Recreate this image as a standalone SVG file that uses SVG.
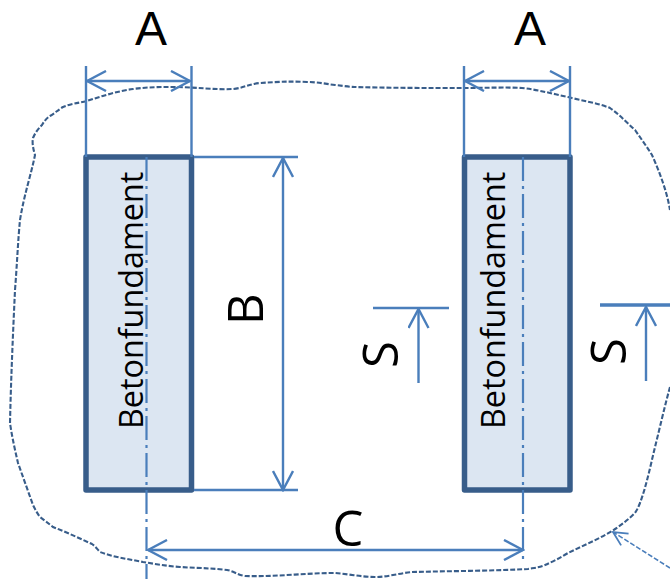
<svg xmlns="http://www.w3.org/2000/svg" width="670" height="579" viewBox="0 0 670 579">
<style>
text{font-family:"Open Sans","Noto Sans","DejaVu Sans",sans-serif;fill:#000}
.big{font-size:49px}
.bigA{font-family:"Liberation Sans",Arial,sans-serif;font-size:48px}
.lab{font-size:32.300px}
.dim{fill:none;stroke:#4a7ebb;stroke-width:2.400}
.thick{stroke-width:3.400}
.center{fill:none;stroke:#4a7ebb;stroke-width:2.200;stroke-dasharray:24 5 3 5}
.found{fill:#dce6f2;stroke:#385d8a;stroke-width:5.500;stroke-linejoin:round}
.blob{fill:none;stroke:#385d8a;stroke-width:2.100;stroke-dasharray:5 2}
.lead{fill:none;stroke:#4a7ebb;stroke-width:1.600;stroke-dasharray:5 2}
</style>
<defs>
<marker id="open" viewBox="-20 -11 22 22" markerUnits="userSpaceOnUse" markerWidth="22" markerHeight="22" refX="0" refY="0" orient="auto-start-reverse">
<path d="M-19-10L0 0L-19 10" fill="none" stroke="#4a7ebb" stroke-width="2.400"/>
</marker>
<marker id="small" viewBox="-15 -8 17 16" markerUnits="userSpaceOnUse" markerWidth="17" markerHeight="16" refX="0" refY="0" orient="auto">
<path d="M-14-7L0 0L-14 7" fill="none" stroke="#4a7ebb" stroke-width="1.800"/>
</marker>
</defs>
<g id="ground-outline">
<path class="blob" d="M15 290C17 265 18 240 20 220C24 195 31 175 35 155C33 148 32 143 33 138C36 131 39 128 42 125C45 120 47 118 50 116C55 113 58 110 63 107C70 104 78 103 87 101C102 96 118 91 133 89C148 87 160 87 173 87C195 87 215 90 233 89C243 88 250 84 260 83C275 82 290 81 307 82C318 82 326 84 335 85C345 86 350 87 355 87C390 88 430 88 465 88C485 88 505 87 522 88C540 90 553 94 568 97C583 101 598 103 610 108C620 115 627 123 635 130C642 140 647 147 652 155C660 173 667 192 670 210M670 387C665 405 660 427 655 447C650 468 646 487 640 503C638 508 637 510 635 513C628 520 620 526 612 531C597 540 582 546 568 553C560 558 552 562 545 565C538 568 533 568 528 569C490 571 450 571 412 572C400 573 388 577 375 577C362 577 348 574 335 573C305 573 275 577 245 576C238 575 233 571 227 570C210 568 195 568 180 567C167 566 155 564 143 562C128 559 113 557 100 552C97 549 95 546 92 544C79 538 66 532 53 527C48 523 44 520 40 517C37 513 35 509 33 505C28 491 23 477 18 463C15 450 12 437 10 423C11 378 13 333 15 290"/>
</g>
<g id="foundation-left">
<rect class="found" x="86" y="157" width="105.500" height="333"/>
<text class="lab" transform="translate(143 429) rotate(-90)">Betonfundament</text>
</g>
<g id="foundation-right">
<rect class="found" x="464.500" y="157" width="105.500" height="333"/>
<text class="lab" transform="translate(505 429) rotate(-90)">Betonfundament</text>
</g>
<g id="connectors">
<path class="dim" d="M86 66V157M191.500 66V157M464 66V157M570 66V157"/>
<path class="dim" d="M87 81H190" marker-start="url(#open)" marker-end="url(#open)"/>
<path class="dim" d="M465 81H569" marker-start="url(#open)" marker-end="url(#open)"/>
<path class="dim" d="M194 157H298M194 490H298"/>
<path class="dim" d="M283 158V490" marker-start="url(#open)" marker-end="url(#open)"/>
<path class="dim" d="M373 308H449"/>
<path class="dim" d="M418.500 383V309" marker-end="url(#open)"/>
<path class="dim thick" d="M600 305H670"/>
<path class="dim" d="M646 381V307" marker-end="url(#open)"/>
<path class="center" d="M146.500 157V579"/>
<path class="center" d="M523 157V563"/>
<path class="dim" d="M148 550H523" marker-start="url(#open)" marker-end="url(#open)"/>
<path class="lead" d="M670 568L613 532" marker-end="url(#small)"/>
</g>
<g id="labels">
<text class="bigA" x="151" y="45" text-anchor="middle">A</text>
<text class="bigA" x="530" y="45" text-anchor="middle">A</text>
<text class="big" transform="translate(263 325) rotate(-90)">B</text>
<text class="big" transform="translate(398 368) rotate(-90)">S</text>
<text class="big" transform="translate(626 365) rotate(-90)">S</text>
<text class="big" x="348" y="546" text-anchor="middle">C</text>
</g>
</svg>
